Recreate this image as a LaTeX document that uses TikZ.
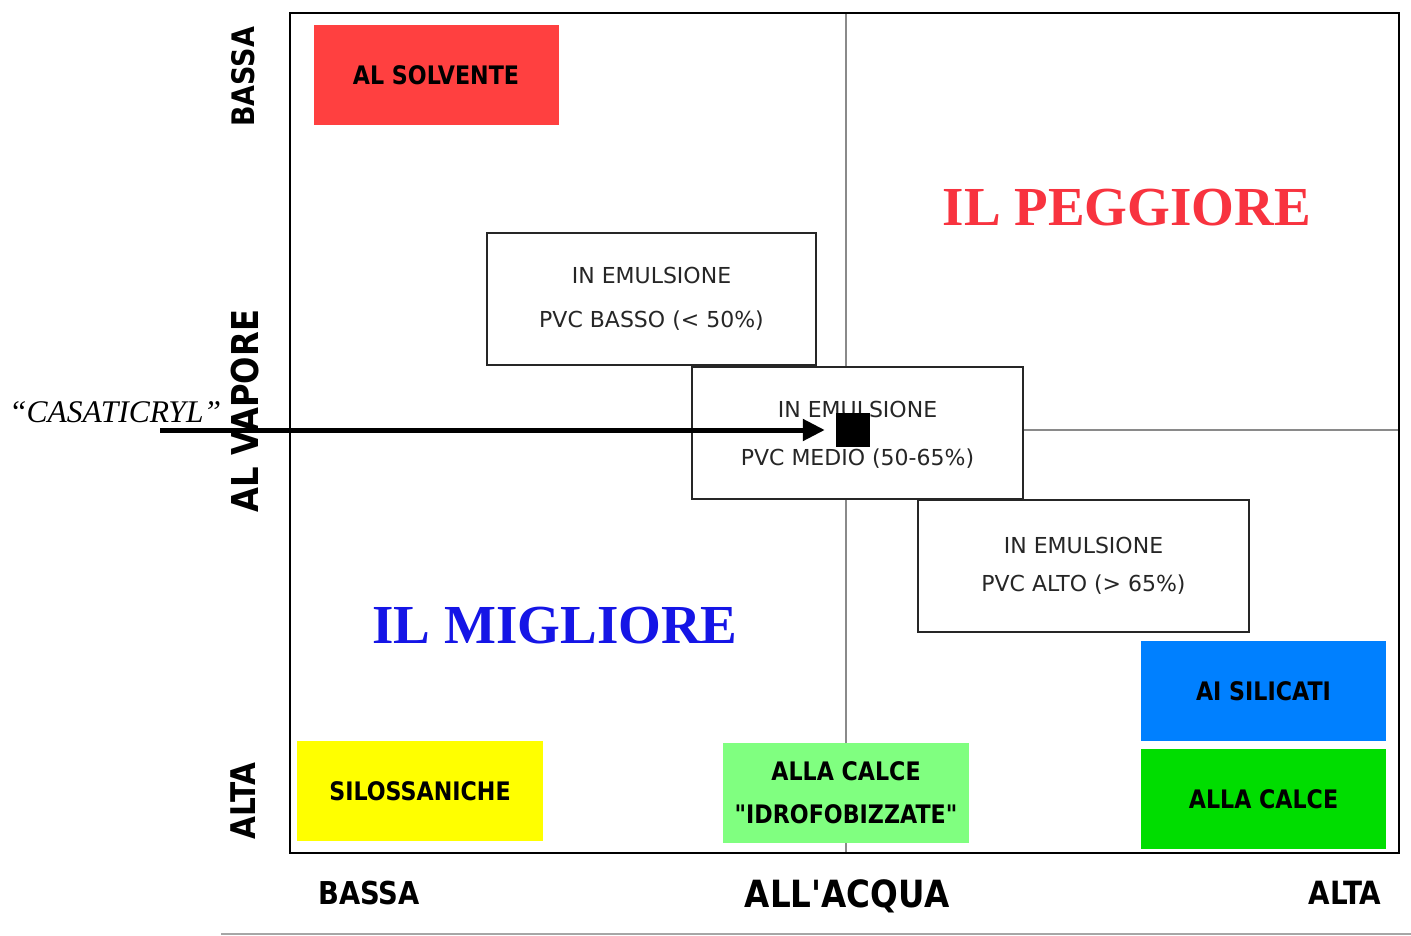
\documentclass[tikz,border=0pt]{standalone}
\usepackage{fontspec}
\setmainfont{Liberation Serif}
\newfontfamily\plainsans{DejaVu Sans}
\newfontfamily\condsans{DejaVu Sans}[FakeStretch=0.87]
\usetikzlibrary{arrows.meta}
\definecolor{boxred}{HTML}{FF4040}
\definecolor{boxyellow}{HTML}{FFFF00}
\definecolor{boxlgreen}{HTML}{80FF80}
\definecolor{boxblue}{HTML}{0080FF}
\definecolor{boxgreen}{HTML}{00DD00}
\definecolor{txtred}{HTML}{F8333F}
\definecolor{txtblue}{HTML}{1515E6}
\definecolor{divgrey}{HTML}{8A8A8A}
\tikzset{
  emulbox/.style={draw=black!85, line width=1.2pt, fill=white, inner sep=0pt,
    minimum width=330pt, minimum height=132pt, align=center, text=black!85},
  colbox/.style={inner sep=0pt, minimum width=245pt, minimum height=100pt,
    align=center, font=\condsans\bfseries\fontsize{25.5}{43}\selectfont},
  axislab/.style={font=\condsans\bfseries\fontsize{31}{36}\selectfont, inner sep=0pt},
  bigtitle/.style={font=\bfseries\fontsize{55}{60}\selectfont, inner sep=0pt},
  divider/.style={draw=divgrey, line width=1.6pt},
}
\begin{document}
\begin{tikzpicture}[x=1pt,y=-1pt]
\fill[white] (0,0) rectangle (1411,936);
\useasboundingbox (0,0) rectangle (1411,936);
% frame and dividers
\draw[divider] (846,13) -- (846,853);
\draw[divider] (290,430) -- (1399,430);
\draw[black, line width=1.8pt] (290,13) rectangle (1399,853);
\draw[draw=black!35, line width=1.4pt] (221,934) -- (1411,934);
% coloured boxes
\node[colbox, fill=boxred] (solv) at (436,75) {AL SOLVENTE};
\node[colbox, fill=boxyellow, minimum width=246pt] (silo) at (420,791) {SILOSSANICHE};
\node[colbox, fill=boxlgreen, minimum width=246pt] (idro) at (846,793) {ALLA CALCE\\"IDROFOBIZZATE"};
\node[colbox, fill=boxblue] (sili) at (1263.5,691) {AI SILICATI};
\node[colbox, fill=boxgreen] (calce) at (1263.5,799) {ALLA CALCE};
% emulsion boxes
\node[emulbox, minimum width=329pt, font=\plainsans\fontsize{22}{44}\selectfont] (basso) at (651.5,299) {IN EMULSIONE\\PVC BASSO (< 50\%)};
\node[emulbox, minimum width=331pt, font=\plainsans\fontsize{22}{48}\selectfont] (medio) at (857.5,433) {\rule{0pt}{20pt}IN EMULSIONE\\PVC MEDIO (50-65\%)};
\node[emulbox, minimum width=331pt, font=\plainsans\fontsize{22}{38}\selectfont] (alto) at (1083.5,566) {IN EMULSIONE\\PVC ALTO (> 65\%)};
% titles
\node[bigtitle, text=txtred] (peg) at (1127,208) {IL PEGGIORE};
\node[bigtitle, text=txtblue] (mig) at (555,626) {IL MIGLIORE};
% axis labels
\node[axislab, rotate=90] (ybassa) at (243,77) {BASSA};
\node[axislab, rotate=90, font=\condsans\bfseries\fontsize{37}{40}\selectfont] (yvap) at (245,411) {AL VAPORE};
\node[axislab, rotate=90, font=\condsans\bfseries\fontsize{34}{36}\selectfont] (yalta) at (243,801) {ALTA};
\node[axislab, font=\condsans\bfseries\fontsize{31.5}{34}\selectfont] (xbassa) at (369,893) {BASSA};
\node[axislab, font=\condsans\bfseries\fontsize{37.5}{40}\selectfont] (xacq) at (847,896) {ALL'ACQUA};
\node[axislab, font=\condsans\bfseries\fontsize{32}{34}\selectfont] (xalta) at (1345,893) {ALTA};
% marker and arrow
\node[fill=black, minimum size=34pt, inner sep=0pt] (mark) at (853,430) {};
\node[font=\itshape\fontsize{31.5}{34}\selectfont, inner sep=0pt, anchor=base west] (casa) at (9,422) {“CASATICRYL”};
\coordinate (astart) at (160,430);
\draw[line width=5pt, -{Triangle[length=22pt,width=21pt]}, shorten >=11pt] (astart) -- (mark.west);
\end{tikzpicture}
\end{document}
